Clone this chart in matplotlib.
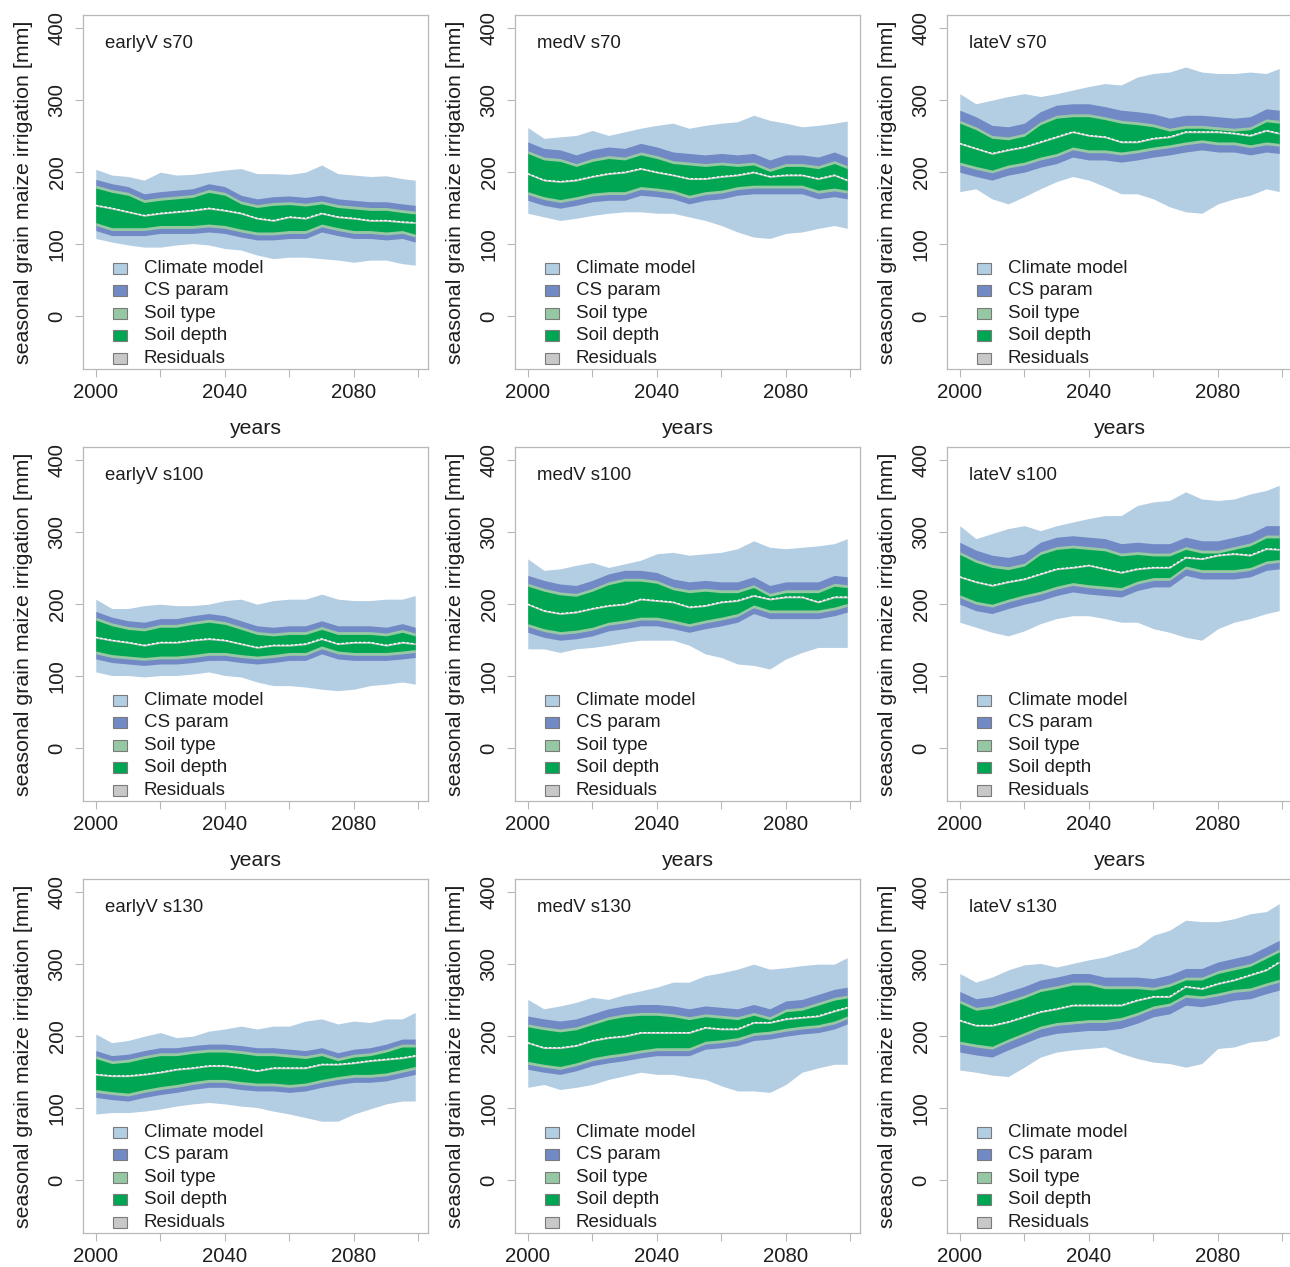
import matplotlib.pyplot as plt
from matplotlib.patches import Rectangle
import numpy as np

plt.rcParams['font.family'] = ['Liberation Sans', 'DejaVu Sans']

# ---- data (mm of irrigation) ----
years = [2000, 2005, 2010, 2015, 2020, 2025, 2030, 2035, 2040, 2045, 2050,
         2055, 2060, 2065, 2070, 2075, 2080, 2085, 2090, 2095, 2099]

panel_names = ['earlyV s70', 'medV s70', 'lateV s70',
               'earlyV s100', 'medV s100', 'lateV s100',
               'earlyV s130', 'medV s130', 'lateV s130']

legend_labels = ['Climate model', 'CS param', 'Soil type', 'Soil depth', 'Residuals']

# outer edges of the climate model band
clim_hi = [
    [204, 196, 194, 189, 200, 196, 197, 200, 203, 205, 198, 198, 197, 200, 210, 198, 196, 194, 195, 191, 189],
    [262, 247, 249, 251, 258, 251, 256, 261, 265, 268, 261, 265, 268, 270, 279, 272, 268, 263, 265, 268, 271],
    [309, 295, 300, 305, 309, 305, 309, 314, 319, 323, 321, 332, 337, 339, 346, 339, 337, 337, 339, 337, 344],
    [207, 194, 194, 198, 200, 198, 198, 200, 205, 207, 200, 205, 207, 207, 214, 207, 205, 205, 207, 207, 212],
    [263, 247, 249, 254, 258, 251, 256, 261, 270, 272, 268, 270, 272, 277, 288, 279, 277, 279, 281, 284, 291],
    [309, 291, 298, 305, 309, 302, 309, 314, 319, 323, 323, 337, 342, 344, 356, 346, 344, 346, 353, 358, 365],
    [203, 191, 194, 200, 205, 198, 200, 207, 210, 214, 210, 214, 214, 221, 224, 217, 221, 219, 224, 224, 233],
    [251, 238, 242, 247, 254, 251, 258, 263, 268, 275, 275, 284, 288, 293, 300, 293, 295, 298, 300, 300, 309],
    [287, 275, 282, 292, 299, 301, 296, 301, 306, 310, 317, 324, 340, 347, 361, 359, 359, 363, 370, 373, 384],
]
clim_lo = [
    [108, 103, 99, 96, 96, 99, 101, 99, 94, 92, 85, 80, 82, 82, 80, 78, 75, 78, 78, 73, 71],
    [143, 138, 133, 136, 140, 143, 145, 145, 143, 143, 138, 133, 126, 117, 110, 108, 115, 117, 122, 126, 122],
    [173, 177, 163, 156, 166, 177, 187, 194, 189, 180, 170, 170, 163, 152, 145, 143, 156, 163, 168, 177, 173],
    [106, 101, 101, 99, 101, 101, 103, 106, 101, 99, 92, 87, 87, 85, 82, 80, 82, 87, 89, 92, 89],
    [138, 138, 133, 138, 140, 143, 147, 150, 150, 150, 143, 131, 126, 117, 115, 110, 124, 133, 140, 140, 140],
    [175, 168, 161, 156, 163, 173, 180, 184, 184, 180, 175, 175, 166, 161, 154, 150, 166, 175, 180, 187, 191],
    [92, 94, 94, 96, 99, 103, 106, 108, 106, 103, 101, 96, 92, 87, 82, 82, 92, 99, 106, 110, 110],
    [129, 133, 126, 129, 133, 140, 145, 150, 147, 147, 143, 140, 131, 124, 124, 122, 133, 150, 156, 161, 161],
    [153, 150, 146, 144, 157, 171, 178, 181, 183, 185, 176, 169, 164, 162, 157, 162, 183, 185, 192, 194, 201],
]
# outer edges of the CS param band
cs_hi = [
    [190, 184, 180, 170, 173, 175, 177, 184, 180, 168, 163, 166, 167, 165, 168, 163, 161, 159, 159, 156, 154],
    [242, 233, 231, 224, 231, 235, 233, 240, 235, 228, 226, 224, 226, 224, 226, 217, 224, 224, 221, 228, 221],
    [286, 277, 265, 263, 268, 284, 293, 295, 295, 291, 286, 284, 281, 275, 279, 279, 277, 275, 277, 288, 286],
    [190, 182, 177, 175, 180, 180, 184, 187, 184, 177, 170, 168, 170, 170, 177, 170, 170, 170, 168, 173, 168],
    [240, 233, 228, 226, 233, 242, 247, 247, 244, 235, 231, 233, 231, 231, 238, 226, 231, 231, 231, 240, 238],
    [286, 275, 268, 265, 270, 286, 293, 295, 293, 291, 284, 286, 284, 284, 293, 288, 288, 293, 298, 309, 309],
    [180, 173, 175, 180, 184, 184, 187, 189, 189, 187, 184, 184, 182, 180, 184, 177, 182, 184, 189, 196, 196],
    [228, 224, 221, 224, 231, 238, 242, 244, 244, 242, 238, 242, 240, 238, 244, 238, 249, 251, 258, 265, 268],
    [262, 252, 255, 262, 269, 278, 282, 287, 287, 282, 282, 282, 280, 285, 294, 294, 303, 308, 313, 324, 333],
]
cs_lo = [
    [119, 112, 112, 112, 115, 115, 115, 117, 115, 110, 106, 106, 108, 108, 117, 112, 108, 108, 106, 108, 103],
    [161, 154, 150, 154, 159, 161, 161, 168, 166, 163, 156, 161, 163, 168, 170, 170, 170, 170, 163, 166, 163],
    [200, 194, 189, 196, 200, 207, 212, 221, 217, 217, 214, 217, 221, 224, 228, 231, 228, 228, 224, 228, 226],
    [124, 119, 117, 115, 117, 117, 119, 122, 122, 119, 117, 119, 122, 122, 131, 124, 122, 122, 122, 124, 126],
    [161, 154, 150, 152, 156, 163, 166, 170, 170, 166, 161, 166, 170, 175, 187, 180, 180, 180, 180, 184, 189],
    [200, 191, 187, 194, 200, 205, 212, 217, 214, 212, 210, 219, 224, 224, 240, 235, 235, 235, 238, 247, 249],
    [115, 112, 110, 115, 119, 122, 126, 129, 129, 126, 124, 124, 122, 124, 129, 133, 136, 136, 138, 143, 147],
    [154, 150, 147, 152, 159, 163, 166, 170, 173, 173, 173, 182, 184, 187, 194, 196, 200, 203, 205, 210, 217],
    [178, 174, 171, 181, 190, 199, 204, 206, 208, 208, 211, 218, 227, 231, 243, 241, 245, 250, 252, 259, 264],
]
# ensemble mean
mean_irr = [
    [154, 150, 145, 140, 143, 145, 147, 150, 147, 143, 136, 133, 138, 136, 143, 138, 136, 133, 133, 131, 130],
    [198, 189, 187, 189, 194, 198, 200, 205, 200, 196, 191, 191, 194, 196, 200, 194, 196, 196, 191, 196, 189],
    [240, 233, 226, 231, 235, 242, 249, 256, 251, 249, 242, 242, 247, 249, 256, 256, 256, 254, 251, 258, 254],
    [154, 150, 147, 143, 147, 147, 150, 152, 150, 145, 140, 143, 143, 145, 152, 145, 147, 147, 143, 147, 145],
    [200, 191, 187, 189, 194, 198, 200, 207, 205, 203, 196, 198, 203, 205, 212, 207, 210, 210, 203, 210, 210],
    [238, 231, 226, 231, 235, 242, 249, 251, 254, 249, 244, 249, 251, 251, 265, 263, 268, 270, 268, 277, 276],
    [147, 145, 145, 147, 150, 154, 156, 159, 159, 156, 152, 156, 156, 156, 161, 161, 163, 166, 168, 170, 173],
    [191, 184, 184, 187, 194, 198, 200, 205, 205, 205, 205, 212, 210, 210, 219, 219, 224, 226, 228, 235, 240],
    [222, 215, 215, 220, 227, 234, 238, 243, 243, 243, 243, 250, 255, 255, 269, 266, 273, 278, 285, 292, 303],
]
# widths of the CS param band (upper / lower side) and of the soil type band
cs_w_hi = [8, 12, 14, 8, 11, 13, 7, 11, 12]
cs_w_lo = [7, 8, 10, 7, 8, 9, 7, 7, 11]
type_w = 4
resid_w = 1.2

colors = ['#b3cde3', '#7189c4', '#96c8a3', '#00a651', '#c8c8c8']
frame_col = '#b8b8b8'
text_col = '#1e1e1e'

fig = plt.figure(figsize=(12.9, 12.67), dpi=100)
W, H = 1290.0, 1267.0

for k in range(9):
    r, c = divmod(k, 3)
    left = (83 + 432 * c) / W
    bottom = 1 - (369 + 432 * r) / H
    ax = fig.add_axes([left, bottom, 345 / W, 354 / H])

    x = np.array(years)
    chi, clo = np.array(clim_hi[k]), np.array(clim_lo[k])
    shi, slo = np.array(cs_hi[k]), np.array(cs_lo[k])
    m = np.array(mean_irr[k])
    thi, tlo = shi - cs_w_hi[k], slo + cs_w_lo[k]
    dhi, dlo = thi - type_w, tlo + type_w

    ax.fill_between(x, clo, chi, color=colors[0], lw=0)
    ax.fill_between(x, slo, shi, color=colors[1], lw=0)
    ax.fill_between(x, tlo, thi, color=colors[2], lw=0)
    ax.fill_between(x, dlo, dhi, color=colors[3], lw=0)
    ax.fill_between(x, m - resid_w, m + resid_w, color=colors[4], lw=0)
    ax.plot(x, m, color='white', lw=0.9, ls=(0, (2, 1.5)))

    ax.set_xlim(1996.04, 2102.96)
    ax.set_ylim(-73.2, 418.2)
    ax.set_xticks([2000, 2020, 2040, 2060, 2080, 2100])
    ax.set_xticklabels(['2000', '', '2040', '', '2080', ''])
    ax.set_yticks([0, 100, 200, 300, 400])
    ax.set_yticklabels(['0', '100', '200', '300', '400'], rotation=90, va='center')
    ax.tick_params(length=5.8, width=0.8, color=frame_col, labelcolor=text_col,
                   labelsize=14.7, pad=6)
    ax.tick_params(axis='x', pad=4.5)
    for sp in ax.spines.values():
        sp.set_color(frame_col)
        sp.set_linewidth(0.9)

    ax.text(-0.172, 0.5, 'seasonal grain maize irrigation [mm]', rotation=90,
            ha='center', va='center', fontsize=15.4, color=text_col, transform=ax.transAxes)
    if r < 2:
        # bottom row label falls outside the figure in the reference
        ax.text(0.5, -0.167, 'years', ha='center', va='center', fontsize=15.3,
                color=text_col, transform=ax.transAxes)
    ax.text(0.064, 0.92, panel_names[k], ha='left', va='center', fontsize=13.4,
            color=text_col, transform=ax.transAxes)

    # legend drawn by hand, R style
    for i, lab in enumerate(legend_labels):
        yc = 0.284 - i * 0.0635
        ax.add_patch(Rectangle((0.087, yc - 0.0155), 0.0406, 0.031, transform=ax.transAxes,
                               facecolor=colors[i], edgecolor='#7a7a7a', lw=0.8))
        ax.text(0.176, yc, lab, ha='left', va='center', fontsize=13.5,
                color=text_col, transform=ax.transAxes)

fig.savefig('out.png', dpi=100)
